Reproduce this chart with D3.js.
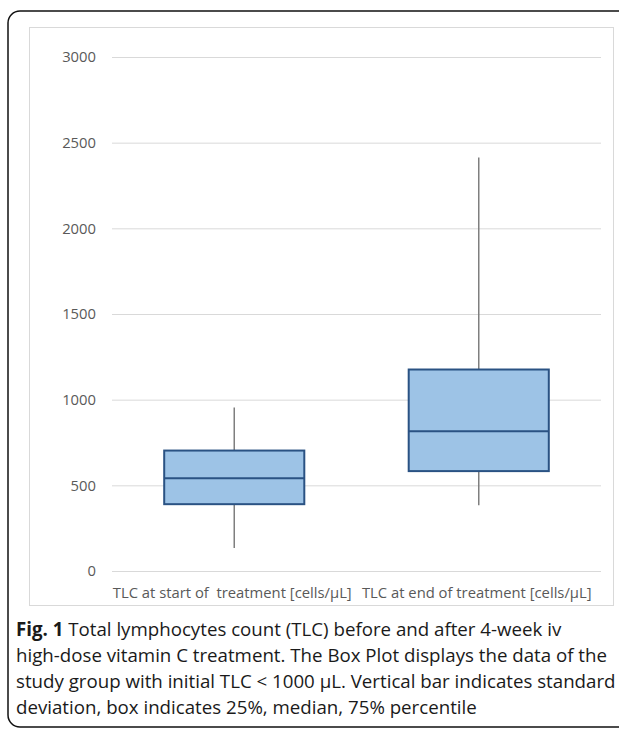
<!DOCTYPE html>
<html>
<head>
<meta charset="utf-8">
<script src="https://cdn.jsdelivr.net/npm/d3@7/dist/d3.min.js"></script>
<style>
  html, body { margin: 0; padding: 0; background: #fff; }
  svg { display: block; }
</style>
</head>
<body>
<svg id="chart" width="619" height="730"></svg>
<script>
// ---- data ----
const categories = ["TLC at start of  treatment [cells/µL]", "TLC at end of treatment [cells/µL]"];
const whiskerLow  = [134, 384];
const q1Values    = [390, 583];
const medianValues= [541, 816];
const q3Values    = [703, 1176];
const whiskerHigh = [955, 2413];
const yTicks = [0, 500, 1000, 1500, 2000, 2500, 3000];
const captionBold = "Fig. 1";
const captionLines = [
  " Total lymphocytes count (TLC) before and after 4-week iv",
  "high-dose vitamin C treatment. The Box Plot displays the data of the",
  "study group with initial TLC < 1000 µL. Vertical bar indicates standard",
  "deviation, box indicates 25%, median, 75% percentile"
];

const svg = d3.select("#chart");

// outer rounded border (extends beyond right/bottom edge)
svg.append("rect")
  .attr("x", 8).attr("y", 11)
  .attr("width", 640).attr("height", 716)
  .attr("rx", 12).attr("ry", 12)
  .attr("fill", "none").attr("stroke", "#111").attr("stroke-width", 1.5);

// inner chart frame
svg.append("rect")
  .attr("x", 29.5).attr("y", 27.5)
  .attr("width", 584).attr("height", 578)
  .attr("fill", "#fff").attr("stroke", "#d9d9d9").attr("stroke-width", 1);

const y = d3.scaleLinear().domain([0, 3000]).range([571, 57]);
const x = d3.scaleBand().domain(categories).range([112, 601]).padding(0);

const chartFont = "'Open Sans', sans-serif";

// gridlines + y labels via axis
const yAxis = d3.axisLeft(y).tickValues(yTicks).tickSize(-(601 - 112)).tickPadding(16).tickFormat(d3.format("d"));
const gy = svg.append("g").attr("transform", "translate(112,0)").call(yAxis);
gy.attr("font-size", null).attr("font-family", null);
gy.select(".domain").remove();
gy.selectAll(".tick line").attr("stroke", "#d9d9d9").attr("stroke-width", 1);
gy.selectAll(".tick text")
  .attr("fill", "#595959")
  .style("font-family", chartFont)
  .style("font-size", "14.8px");

// x labels
const xAxis = d3.axisBottom(x).tickSize(0).tickPadding(0);
const gx = svg.append("g").attr("transform", "translate(-2,587)").call(xAxis);
gx.attr("font-size", null).attr("font-family", null);
gx.select(".domain").remove();
gx.selectAll(".tick text")
  .attr("fill", "#595959")
  .attr("dy", "0.71em")
  .style("font-family", chartFont)
  .style("font-size", "14.8px")
  .style("white-space", "pre");

// boxes
const boxW = x.bandwidth() * 0.573;
const data = categories.map((c, i) => ({
  c, lo: whiskerLow[i], q1: q1Values[i], med: medianValues[i], q3: q3Values[i], hi: whiskerHigh[i]
}));

const g = svg.append("g");
const cx = d => x(d.c) + x.bandwidth() / 2;

g.selectAll(".wh").data(data).enter().append("line")
  .attr("x1", cx).attr("x2", cx)
  .attr("y1", d => y(d.hi)).attr("y2", d => y(d.lo))
  .attr("stroke", "#7f7f7f").attr("stroke-width", 1.5);

g.selectAll(".box").data(data).enter().append("rect")
  .attr("x", d => cx(d) - boxW / 2)
  .attr("y", d => y(d.q3))
  .attr("width", boxW)
  .attr("height", d => y(d.q1) - y(d.q3))
  .attr("fill", "#9dc3e6")
  .attr("stroke", "#2a5283").attr("stroke-width", 2);

g.selectAll(".med").data(data).enter().append("line")
  .attr("x1", d => cx(d) - boxW / 2).attr("x2", d => cx(d) + boxW / 2)
  .attr("y1", d => y(d.med)).attr("y2", d => y(d.med))
  .attr("stroke", "#2a5283").attr("stroke-width", 2);

// caption
const capFont = "'Open Sans', sans-serif";
const baselines = [636, 662, 688, 714];
captionLines.forEach((line, i) => {
  const t = svg.append("text")
    .attr("x", 16).attr("y", baselines[i])
    .attr("fill", "#1a1a1a")
    .style("font-family", capFont)
    .style("font-size", "18.7px")
    .style("white-space", "pre");
  if (i === 0) {
    t.append("tspan").attr("font-weight", "bold").text(captionBold);
  }
  t.append("tspan").text(line);
});
</script>
</body>
</html>
